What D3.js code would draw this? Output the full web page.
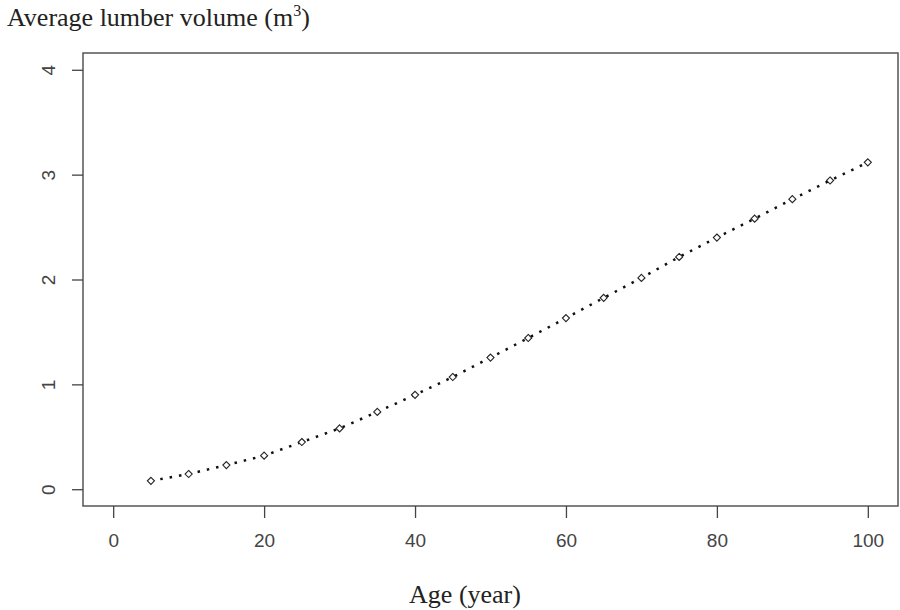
<!DOCTYPE html>
<html>
<head>
<meta charset="utf-8">
<script src="https://cdn.jsdelivr.net/npm/d3@7"></script>
<style>
  body { margin: 0; background: #fff; }
  .tick text { font-family: "Liberation Sans", Arial, sans-serif; fill: #444; }
  .title { font-family: "Liberation Serif", "Times New Roman", serif; fill: #222; }
</style>
</head>
<body>
<svg class="chart" width="900" height="610"></svg>
<script>
const ages = [5, 10, 15, 20, 25, 30, 35, 40, 45, 50, 55, 60, 65, 70, 75, 80, 85, 90, 95, 100]
const volumes = [0.08, 0.145, 0.23, 0.32, 0.45, 0.58, 0.737, 0.9, 1.07, 1.255, 1.442, 1.632, 1.825, 2.015, 2.215, 2.4, 2.58, 2.766, 2.944, 3.117]
const xTicks = [0, 20, 40, 60, 80, 100]
const yTicks = [0, 1, 2, 3, 4]

const svg = d3.select("svg.chart")

const plotLeft = 83, plotRight = 898, plotTop = 53, plotBottom = 506

// R style: limits padded 4% on each side
const x = d3.scaleLinear().domain([-4, 104]).range([plotLeft, plotRight])
const y = d3.scaleLinear().domain([-0.16, 4.16]).range([plotBottom, plotTop])

svg.append("rect")
    .attr("x", plotLeft)
    .attr("y", plotTop)
    .attr("width", plotRight - plotLeft)
    .attr("height", plotBottom - plotTop)
    .attr("fill", "none")
    .attr("stroke", "#555")
    .attr("stroke-width", 1.5)

const xAxis = svg.append("g")
    .attr("transform", "translate(0," + plotBottom + ")")
    .call(d3.axisBottom(x).tickValues(xTicks).tickSize(12).tickPadding(16))
xAxis.select(".domain").remove()
xAxis.selectAll("line").attr("stroke", "#444").attr("stroke-width", 1.3)
xAxis.selectAll("text").style("font-size", "19px")

const yAxis = svg.append("g")
    .attr("transform", "translate(" + plotLeft + ",0)")
    .call(d3.axisLeft(y).tickValues(yTicks).tickFormat(d3.format("d")).tickSize(11))
yAxis.select(".domain").remove()
yAxis.selectAll("line").attr("stroke", "#444").attr("stroke-width", 1.3)
yAxis.selectAll("text")
    .style("font-size", "19px")
    .attr("text-anchor", "middle")
    .attr("dy", 0)
    .attr("x", 0)
    .attr("transform", "translate(-28,0) rotate(-90)")

const line = d3.line()
    .x((d, i) => x(ages[i]))
    .y(d => y(d))

svg.append("path")
    .datum(volumes)
    .attr("d", line)
    .attr("fill", "none")
    .attr("stroke", "#111")
    .attr("stroke-width", 2.5)
    .attr("stroke-dasharray", "2.5 7")

svg.selectAll("path.pt")
    .data(volumes)
    .enter()
    .append("path")
    .attr("class", "pt")
    .attr("transform", (d, i) => "translate(" + x(ages[i]) + "," + y(d) + ")")
    .attr("d", d3.symbol(d3.symbolDiamond2, 32))
    .attr("fill", "#fff")
    .attr("stroke", "#222")
    .attr("stroke-width", 1.1)

const title = svg.append("text")
    .attr("class", "title")
    .attr("x", 7)
    .attr("y", 26)
    .style("font-size", "26px")
title.append("tspan").text("Average lumber volume (m")
title.append("tspan").attr("dy", -10).style("font-size", "16px").text("3")
title.append("tspan").attr("dy", 10).text(")")

svg.append("text")
    .attr("class", "title")
    .attr("x", 465)
    .attr("y", 603)
    .attr("text-anchor", "middle")
    .style("font-size", "26px")
    .text("Age (year)")
</script>
</body>
</html>
